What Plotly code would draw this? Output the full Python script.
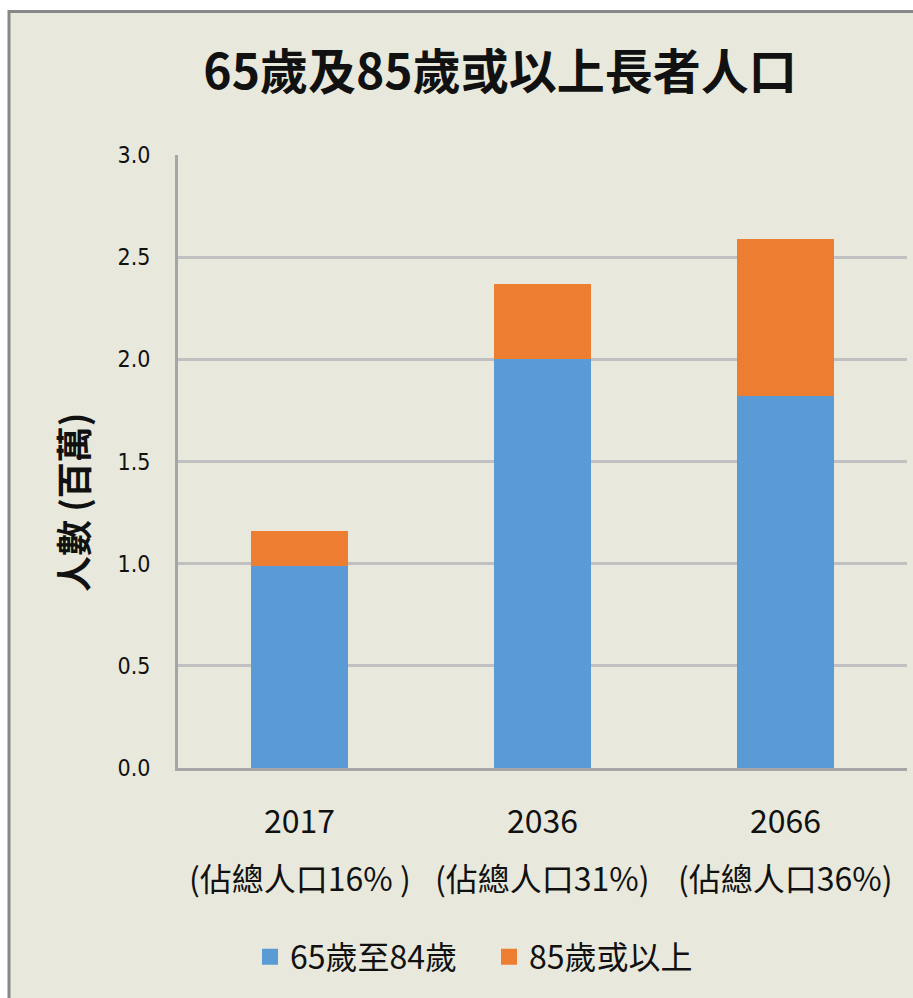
import plotly.graph_objects as go

years = ["2017", "2036", "2066"]
shares = ["(佔總人口16% )", "(佔總人口31%)", "(佔總人口36%)"]
age_65_84 = [0.99, 2.00, 1.82]
age_85_plus = [0.17, 0.37, 0.77]
series_names = ["65歲至84歲", "85歲或以上"]
series_colors = ["#5B9BD5", "#ED7D31"]
y_ticks = [0.0, 0.5, 1.0, 1.5, 2.0, 2.5, 3.0]

BG = "#E8E9DC"
CJK = "Noto Sans CJK TC"
W, H = 913, 998
L, R, T, B = 178, 6, 155, 230
PW, PH = W - L - R, H - T - B

def px_x(p):
    return (p - L) / PW

def px_y(p):
    return (H - B - p) / PH

fig = go.Figure()
for vals, name, col in zip([age_65_84, age_85_plus], series_names, series_colors):
    fig.add_trace(go.Bar(x=years, y=vals, name=name, showlegend=False,
                         marker=dict(color=col, line=dict(width=0))))
# legend entries with larger square swatches
for name, col in zip(series_names, series_colors):
    fig.add_trace(go.Scatter(x=[None], y=[None], mode="markers", name=name,
                             marker=dict(symbol="square", size=18, color=col)))

# frame of the chart area
fig.add_shape(type="rect", xref="paper", yref="paper", layer="below",
              x0=px_x(9), x1=px_x(925), y0=px_y(1010), y1=px_y(11.5),
              fillcolor=BG, line=dict(color="#888888", width=3))

n = len(years)
for i, s in enumerate(shares):
    fig.add_annotation(x=(i + 0.5) / n, xref="paper", y=px_y(877), yref="paper",
                       text=s, showarrow=False, xanchor="center", yanchor="middle",
                       font=dict(family=CJK, size=32, color="#111111"))

fig.add_annotation(x=px_x(72), y=px_y(503), xref="paper", yref="paper",
                   text="<b>人數 (百萬)</b>", textangle=-90, showarrow=False,
                   xanchor="center", yanchor="middle",
                   font=dict(family=CJK, size=36, color="#111111"))

fig.update_layout(
    width=W, height=H,
    margin=dict(l=L, r=R, t=T, b=B, autoexpand=False),
    paper_bgcolor="white", plot_bgcolor="rgba(0,0,0,0)",
    barmode="stack", bargap=0.6,
    title=dict(text="<b>65歲及85歲或以上長者人口</b>", x=500 / W, xanchor="center",
               y=1 - 72 / H, yanchor="middle", xref="container", yref="container",
               font=dict(family=CJK, size=48, color="#111111")),
    legend=dict(orientation="h", x=px_x(489), xanchor="center", y=px_y(957),
                yanchor="middle", font=dict(family=CJK, size=32, color="#111111"),
                bgcolor="rgba(0,0,0,0)", itemwidth=30, traceorder="normal",
                entrywidth=194),
    xaxis=dict(type="category", range=[-0.5, 2.5], showgrid=False,
               showline=True, linecolor="#A6A6A6", linewidth=3,
               ticks="", tickfont=dict(family=CJK, size=32, color="#111111"),
               ticklabelstandoff=24),
    yaxis=dict(range=[0, 3], tickvals=y_ticks, tickformat=".1f",
               showgrid=True, gridcolor="#C0C0C0", gridwidth=3,
               showline=True, linecolor="#A6A6A6", linewidth=3,
               zeroline=False, ticks="",
               tickfont=dict(family="DejaVu Sans Condensed", size=23, color="#111111"),
               ticklabelstandoff=20),
)

fig.write_html("out.html", config={"displayModeBar": False},
               post_script="document.body.style.margin='0';")
